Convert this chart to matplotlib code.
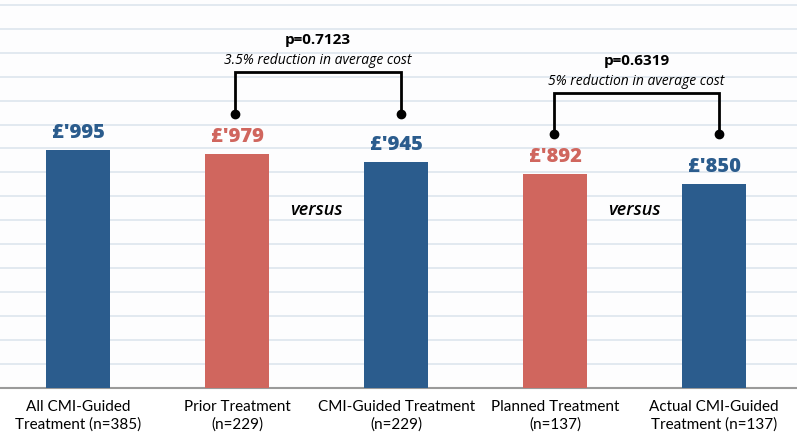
import matplotlib.pyplot as plt
import numpy as np

# values
categories = ["All CMI-Guided\nTreatment (n=385)", "Prior Treatment\n(n=229)",
              "CMI-Guided Treatment\n(n=229)", "Planned Treatment\n(n=137)",
              "Actual CMI-Guided\nTreatment (n=137)"]
costs = [995, 979, 945, 892, 850]
value_labels = ["£'995", "£'979", "£'945", "£'892", "£'850"]
is_prior = [False, True, False, True, False]

# comparisons: (left bar, right bar, p text, reduction text)
comparisons = [(1, 2, "p=0.7123", "3.5% reduction in average cost"),
               (3, 4, "p=0.6319", "5% reduction in average cost")]

blue = "#2b5c8d"
red = "#d0665e"
font = "Open Sans"

fig = plt.figure(figsize=(7.97, 4.34), dpi=100)
ax = fig.add_axes([0, 46 / 434, 1, 388 / 434])

x = np.arange(len(costs))
colors = [red if p else blue for p in is_prior]
ax.bar(x, costs, width=0.4, color=colors, zorder=3)

ax.set_xlim(-0.49, 4.52)
ax.set_ylim(0, 1620)
ax.set_yticks(np.arange(100, 1700, 100))
ax.yaxis.grid(True, color="#dde5ee", linewidth=1.2, zorder=0)
ax.tick_params(left=False, labelleft=False, bottom=False)
for s in ["top", "left", "right"]:
    ax.spines[s].set_visible(False)
ax.spines["bottom"].set_color("#9a9a9a")
ax.spines["bottom"].set_linewidth(1.5)
ax.set_facecolor("#fdfdfe")

ax.set_xticks(x)
ax.set_xticklabels(categories, fontsize=11, family="Lato",
                   linespacing=1.3, color="#000000")
ax.tick_params(axis="x", pad=5)

for xi, v, lab, c in zip(x, costs, value_labels, colors):
    ax.annotate(lab, (xi, v), xytext=(0, 5), textcoords="offset points",
                ha="center", va="bottom", fontsize=14.5, fontweight="extra bold",
                color=c, family=font)

# brackets
bracket_tops = [1318, 1230]
bracket_feet = [1146, 1059]
for (a, b, ptxt, rtxt), top, foot in zip(comparisons, bracket_tops, bracket_feet):
    xa, xb = x[a] - 0.01, x[b] + 0.03
    ax.plot([xa, xa, xb, xb], [foot, top, top, foot], color="black", lw=2, zorder=4,
            solid_joinstyle="miter")
    ax.plot([xa, xb], [foot, foot], "o", color="black", ms=6, zorder=4)
    mid = (xa + xb) / 2
    ax.annotate(ptxt, (mid, top), xytext=(0, 23), textcoords="offset points",
                ha="center", va="center", fontsize=11, fontweight="bold", family=font)
    ax.annotate(rtxt, (mid, top), xytext=(0, 8.5), textcoords="offset points",
                ha="center", va="center", fontsize=10, style="italic", family=font)
    ax.text((x[a] + x[b]) / 2, 745, "versus", ha="center", va="center",
            fontsize=13, style="italic", fontweight="semibold", family=font)

fig.savefig("out.png", dpi=100, facecolor="white")
